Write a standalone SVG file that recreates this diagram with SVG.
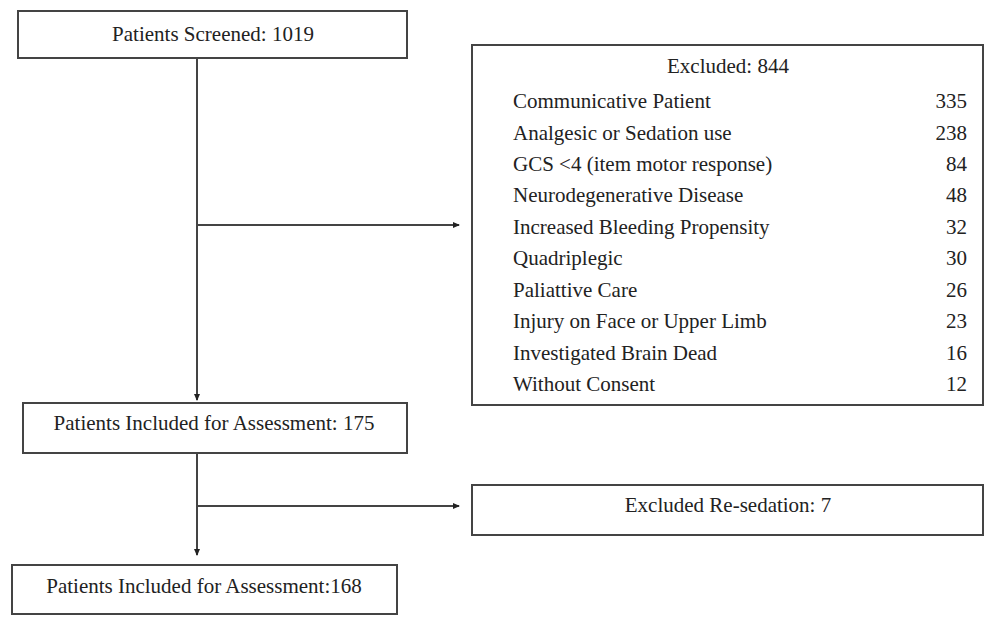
<svg xmlns="http://www.w3.org/2000/svg" width="984" height="617" viewBox="0 0 984 617">
<defs>
<style>
.box{fill:#fff;stroke:#444;stroke-width:2}
.t{font-family:"Liberation Serif","Times New Roman",serif;font-size:21px;fill:#222}
.c{text-anchor:middle}
.r{text-anchor:end}
.ln{stroke:#444;stroke-width:2;fill:none}
</style>
<marker id="ah" markerWidth="8" markerHeight="8" refX="6" refY="4" orient="auto" markerUnits="userSpaceOnUse">
<path d="M0,1 L7,4 L0,7 Z" fill="#222"/>
</marker>
</defs>
<g id="screened">
<rect class="box" x="18" y="11" width="389" height="47"/>
<text class="t c" x="213" y="41">Patients Screened:  1019</text>
</g>
<g id="excluded">
<rect class="box" x="472" y="45" width="511" height="360"/>
<text class="t c" x="728" y="73">Excluded: 844</text>
<text class="t" x="513" y="108">Communicative Patient</text><text class="t r" x="967" y="108">335</text>
<text class="t" x="513" y="140">Analgesic or Sedation use</text><text class="t r" x="967" y="140">238</text>
<text class="t" x="513" y="171">GCS &lt;4 (item motor response)</text><text class="t r" x="967" y="171">84</text>
<text class="t" x="513" y="202">Neurodegenerative Disease</text><text class="t r" x="967" y="202">48</text>
<text class="t" x="513" y="234">Increased Bleeding Propensity</text><text class="t r" x="967" y="234">32</text>
<text class="t" x="513" y="265">Quadriplegic</text><text class="t r" x="967" y="265">30</text>
<text class="t" x="513" y="297">Paliattive Care</text><text class="t r" x="967" y="297">26</text>
<text class="t" x="513" y="328">Injury on Face or Upper Limb</text><text class="t r" x="967" y="328">23</text>
<text class="t" x="513" y="360">Investigated Brain Dead</text><text class="t r" x="967" y="360">16</text>
<text class="t" x="513" y="391">Without Consent</text><text class="t r" x="967" y="391">12</text>
</g>
<g id="included175">
<rect class="box" x="23" y="403" width="384" height="50"/>
<text class="t c" x="214" y="430">Patients Included for Assessment:  175</text>
</g>
<g id="resedation">
<rect class="box" x="472" y="485" width="511" height="50"/>
<text class="t c" x="728" y="512">Excluded Re-sedation: 7</text>
</g>
<g id="included168">
<rect class="box" x="12" y="565" width="385" height="49"/>
<text class="t c" x="204" y="593">Patients Included for Assessment:168</text>
</g>
<g id="connectors">
<line class="ln" x1="197" y1="58" x2="197" y2="400" marker-end="url(#ah)"/>
<line class="ln" x1="197" y1="225" x2="459" y2="225" marker-end="url(#ah)"/>
<line class="ln" x1="197" y1="453" x2="197" y2="555" marker-end="url(#ah)"/>
<line class="ln" x1="197" y1="506" x2="459" y2="506" marker-end="url(#ah)"/>
</g>
</svg>
